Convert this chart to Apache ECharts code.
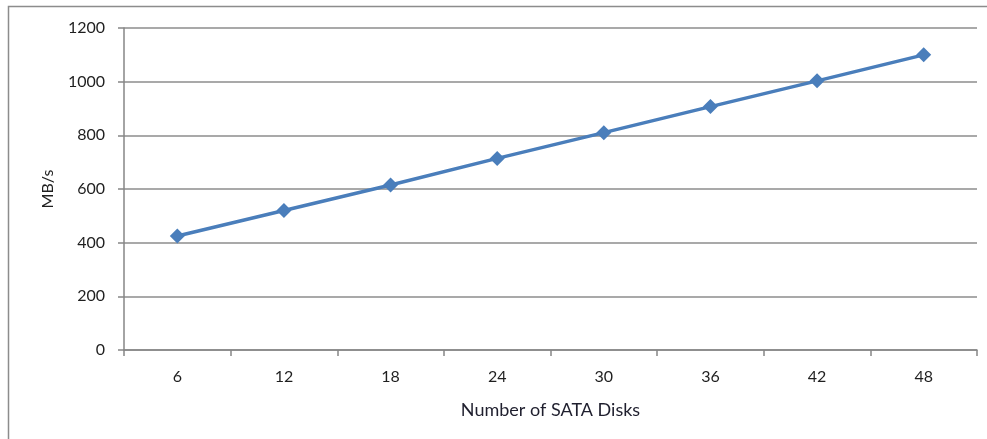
<!DOCTYPE html>
<html>
<head>
<meta charset="utf-8">
<script src="https://cdn.jsdelivr.net/npm/echarts@6/dist/echarts.min.js"></script>
<style>
html,body{margin:0;padding:0;background:#fff;}
#chart{width:987px;height:439px;}
</style>
</head>
<body>
<div id="chart"></div>
<script>
var categories = ['6', '12', '18', '24', '30', '36', '42', '48'];
var throughput = [425, 520, 615, 714, 810, 907, 1003, 1100];
var yTicks = [0, 200, 400, 600, 800, 1000, 1200];

var font = 'Lato, "Open Sans", sans-serif';
var chart = echarts.init(document.getElementById('chart'));
chart.setOption({
  animation: false,
  backgroundColor: '#fff',
  graphic: [{
    type: 'rect',
    shape: {x: 8.5, y: 6.5, width: 1000, height: 450},
    style: {fill: 'none', stroke: '#8c8c8c', lineWidth: 1.5},
    silent: true
  }],
  grid: {left: 124, right: 10, top: 28, bottom: 89},
  xAxis: {
    type: 'category',
    data: categories,
    boundaryGap: true,
    name: 'Number of SATA Disks',
    nameLocation: 'middle',
    nameGap: 51,
    nameTextStyle: {fontFamily: font, fontSize: 18, color: '#1f1f2e'},
    axisLine: {lineStyle: {color: '#868686', width: 1.5}},
    axisTick: {show: true, length: 6, lineStyle: {color: '#868686', width: 1.5}},
    axisLabel: {fontFamily: font, fontSize: 16, color: '#1f1f1f', margin: 19}
  },
  yAxis: {
    type: 'value',
    min: yTicks[0],
    max: yTicks[yTicks.length - 1],
    interval: 200,
    name: 'MB/s',
    nameLocation: 'middle',
    nameGap: 68,
    nameRotate: 90,
    nameTextStyle: {fontFamily: font, fontSize: 16, color: '#1f1f1f'},
    axisLine: {show: true, lineStyle: {color: '#868686', width: 1.5}},
    axisTick: {show: true, length: 6, lineStyle: {color: '#868686', width: 1.5}},
    axisLabel: {fontFamily: font, fontSize: 16, color: '#1f1f1f', margin: 19,
      formatter: function (v) { return String(v); }},
    splitLine: {show: true, lineStyle: {color: '#8c8c8c', width: 1.5}}
  },
  series: [{
    type: 'line',
    data: throughput,
    symbol: 'diamond',
    symbolSize: 15,
    lineStyle: {color: '#4a7ebb', width: 3.5},
    itemStyle: {color: '#4a7ebb'}
  }]
});
</script>
</body>
</html>
